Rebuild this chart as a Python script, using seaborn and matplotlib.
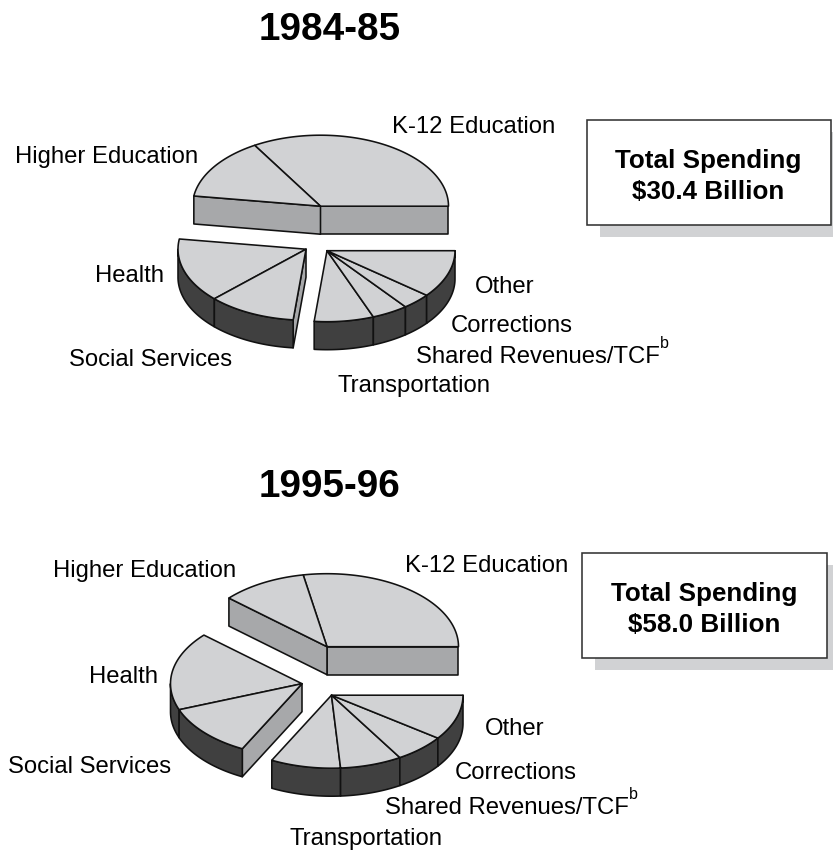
import numpy as np
import matplotlib
matplotlib.use("Agg")
import matplotlib.pyplot as plt
from matplotlib.patches import Rectangle
import seaborn as sns

# ---- data: share of total spending, percent ----
categories = ["K-12 Education", "Higher Education", "Health", "Social Services",
              "Transportation", "Shared Revenues/TCF", "Corrections", "Other"]
shares_1984 = [33.6, 14.1, 14.6, 11.1, 7.5, 4.6, 3.7, 10.8]
shares_1995 = [27.9, 10.5, 17.4, 11.7, 8.6, 7.6, 6.3, 10.0]
titles = ["1984-85", "1995-96"]
totals = ["$30.4 Billion", "$58.0 Billion"]
box_heading = "Total Spending"
groups = [[0, 1], [2, 3], [4, 5, 6, 7]]   # slices pulled out together

# ---- layout and style (pixels) ----
W, H = 833, 854
layouts = [
    dict(rx=128, ry=71, depth=28,
         apex=[(320.5, 207.2), (306, 250.2), (327, 251.7)],
         title=(258.5, 40),
         box=(587, 120.5, 244, 105), shadow=(600, 133, 233, 105),
         labels=[(392, 133), (15, 163), (95, 282), (69, 366),
                 (338, 392.5), (416, 363), (451, 332.5), (475, 293)],
         sup=(660, 348)),
    dict(rx=131.5, ry=73, depth=28,
         apex=[(327, 647.7), (302, 684.7), (331.5, 696.2)],
         title=(258.5, 497),
         box=(582, 553.5, 245, 105), shadow=(595, 566, 238, 105),
         labels=[(405, 572), (53, 577), (89, 683), (8, 773),
                 (290, 845), (385, 814), (455, 779.5), (485, 735)],
         sup=(629, 799)),
]
TOP, CUT, RIM, EDGE, SHADOW = "#d1d2d4", "#a7a8aa", "#404040", "#111111", "#d1d2d4"

sns.set_theme(style="white", context="paper")
plt.rcParams["font.family"] = ["Liberation Sans", "DejaVu Sans"]

fig = plt.figure(figsize=(W / 100, H / 100), dpi=100, facecolor="white")
ax = fig.add_axes([0, 0, 1, 1])
ax.set_xlim(0, W)
ax.set_ylim(H, 0)
ax.set_xticks([])
ax.set_yticks([])
sns.despine(ax=ax, left=True, bottom=True)
ax.patch.set_alpha(0)


def ring(c, rx, ry, a, b, drop=0.0, n=80):
    t = np.radians(np.linspace(a, b, n))
    return c[0] + rx * np.cos(t), c[1] - ry * np.sin(t) + drop


def poly(x, y, color, z):
    ax.fill(x, y, facecolor=color, edgecolor=EDGE, linewidth=1.15,
            joinstyle="round", zorder=z)


def draw_pie(shares, lay):
    shares = np.asarray(shares, float)
    edges = np.concatenate([[0], np.cumsum(shares) / shares.sum() * 360])
    rx, ry, d = lay["rx"], lay["ry"], lay["depth"]
    for g, c in zip(groups, lay["apex"]):
        a0, b0 = edges[g[0]], edges[g[-1] + 1]
        # cut faces that look toward the viewer
        for ang, show in ((a0, np.cos(np.radians(a0)) > 0),
                          (b0, np.cos(np.radians(b0)) < 0)):
            if show:
                ex, ey = ring(c, rx, ry, ang, ang, n=1)
                poly([c[0], ex[0], ex[0], c[0]],
                     [c[1], ey[0], ey[0] + d, c[1] + d], CUT, 2)
        for i in g:
            a, b = edges[i], edges[i + 1]
            # front rim
            lo, hi = max(a, 180), min(b, 360)
            if hi > lo:
                x, y = ring(c, rx, ry, lo, hi)
                xb, yb = ring(c, rx, ry, hi, lo, drop=d)
                poly(np.r_[x, xb], np.r_[y, yb], RIM, 3)
            # top face
            x, y = ring(c, rx, ry, a, b)
            poly(np.r_[c[0], x], np.r_[c[1], y], TOP, 4)


label_kw = dict(fontsize=17.2, color="black", ha="left", va="baseline", zorder=6)
for shares, lay, title, total in zip([shares_1984, shares_1995], layouts, titles, totals):
    draw_pie(shares, lay)
    ax.text(*lay["title"], title, fontsize=27.8, fontweight="bold",
            ha="left", va="baseline", color="black")
    for name, pos in zip(categories, lay["labels"]):
        ax.text(*pos, name, **label_kw)
    ax.text(*lay["sup"], "b", fontsize=11.5, ha="left", va="baseline", color="black")
    sx, sy, sw, sh = lay["shadow"]
    ax.add_patch(Rectangle((sx, sy), sw, sh, facecolor=SHADOW, edgecolor="none", zorder=1))
    bx, by, bw, bh = lay["box"]
    ax.add_patch(Rectangle((bx, by), bw, bh, facecolor="white", edgecolor="#333333",
                           linewidth=1.15, zorder=2))
    ax.text(bx + bw / 2 - 0.5, by + 47.5, box_heading, fontsize=18.7, fontweight="bold",
            ha="center", va="baseline", color="black", zorder=3)
    ax.text(bx + bw / 2 - 0.5, by + 78.5, total, fontsize=18.7, fontweight="bold",
            ha="center", va="baseline", color="black", zorder=3)

fig.savefig("out.png", dpi=100, facecolor="white")
